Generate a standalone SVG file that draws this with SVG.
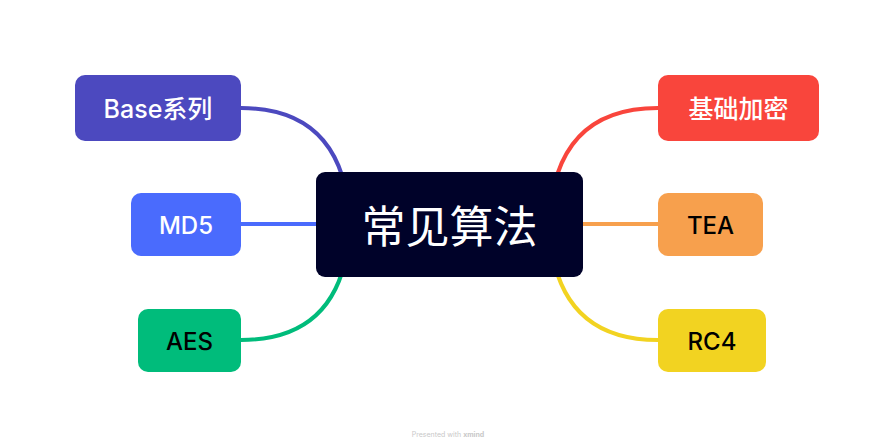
<svg xmlns="http://www.w3.org/2000/svg" width="895" height="447" viewBox="0 0 895 447">
<style>
.c{fill:none;stroke-width:4;stroke-linecap:round}
.t{font-family:Inter,"Noto Sans","Noto Sans CJK SC",sans-serif;font-size:24px;font-weight:500;text-anchor:middle;dominant-baseline:central}
.w{fill:#ffffff}
.b{fill:#000000}
</style>
<rect width="895" height="447" fill="#ffffff"/>
<g id="connectors">
<path class="c" stroke="#4C49BF" d="M241,108 Q345,108 350,224"/>
<path class="c" stroke="#4A6BFD" d="M241,224 L350,224"/>
<path class="c" stroke="#00BC7B" d="M241,340 Q345,340 350,224"/>
<path class="c" stroke="#F9453C" d="M658,108 Q554,108 549,224"/>
<path class="c" stroke="#F7A04D" d="M658,224 L549,224"/>
<path class="c" stroke="#F2D321" d="M658,340 Q554,340 549,224"/>
</g>
<g id="center">
<rect x="316" y="172" width="267" height="105" rx="9" fill="#000229"/>
<text class="t w" x="449.5" y="227" style="font-size:44px;font-weight:400">常见算法</text>
</g>
<g id="base">
<rect x="75" y="75" width="166" height="66" rx="10" fill="#4C49BF"/>
<text class="t w" x="158" y="109" style="font-size:25px">Base系列</text>
</g>
<g id="md5">
<rect x="131" y="193" width="110" height="63" rx="10" fill="#4A6BFD"/>
<text class="t w" x="186" y="225">MD5</text>
</g>
<g id="aes">
<rect x="138" y="309" width="103" height="63" rx="10" fill="#00BC7B"/>
<text class="t b" x="189.5" y="341">AES</text>
</g>
<g id="jichu">
<rect x="658" y="75" width="161" height="66" rx="10" fill="#F9453C"/>
<text class="t w" x="738.5" y="109" style="font-size:25px">基础加密</text>
</g>
<g id="tea">
<rect x="658" y="193" width="105" height="63" rx="10" fill="#F7A04D"/>
<text class="t b" x="710.5" y="225">TEA</text>
</g>
<g id="rc4">
<rect x="658" y="309" width="108" height="63" rx="10" fill="#F2D321"/>
<text class="t b" x="712" y="341">RC4</text>
</g>
<text x="448" y="437" font-family="Inter,'Noto Sans',sans-serif" font-size="7" fill="#c8c8c8" text-anchor="middle">Presented with <tspan font-weight="bold">xmind</tspan></text>
</svg>
